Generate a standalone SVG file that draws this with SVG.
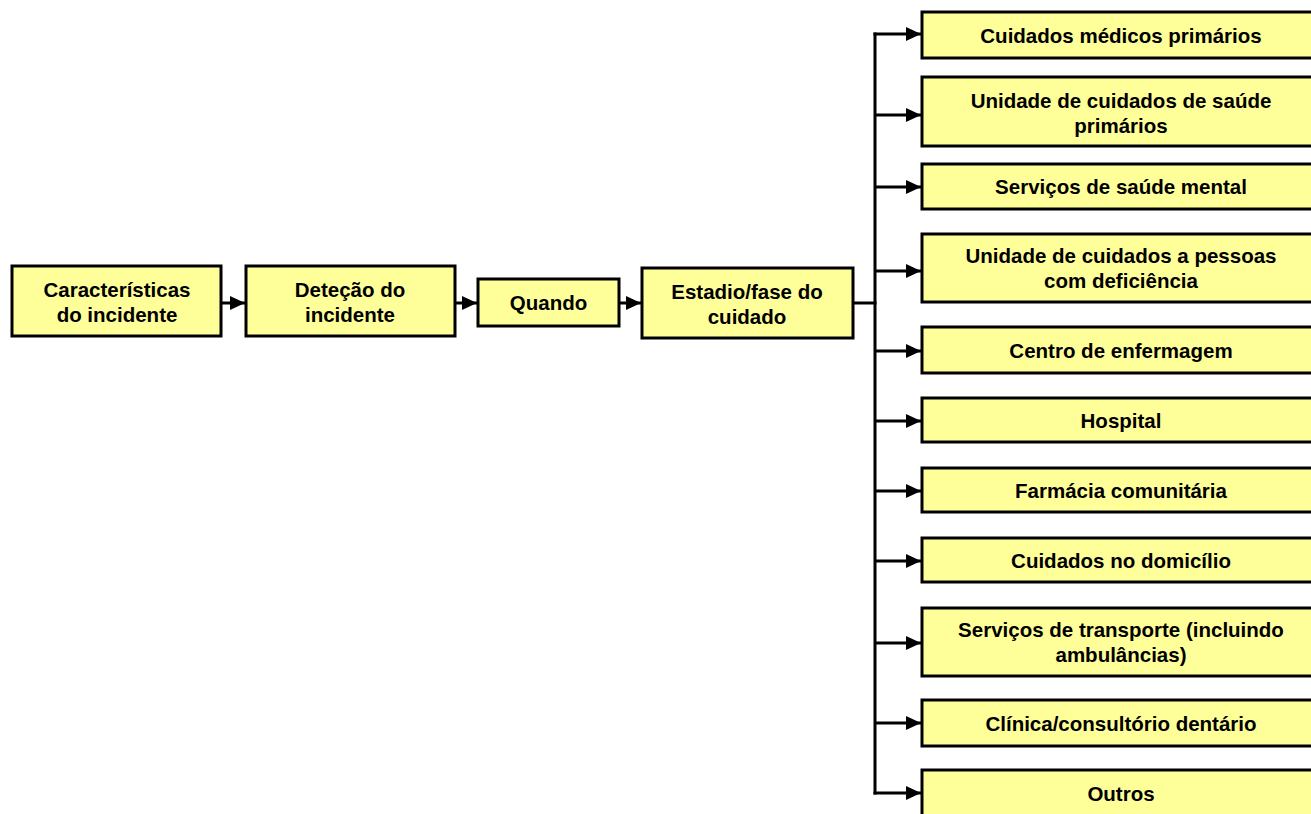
<svg xmlns="http://www.w3.org/2000/svg" width="1311" height="814" viewBox="0 0 1311 814">
<style>
.box{fill:#FFFF99;stroke:#000;stroke-width:3}
.t{font-family:"Liberation Sans",Arial,sans-serif;font-weight:bold;font-size:20.5px;fill:#000;text-anchor:middle}
.c{fill:none;stroke:#000;stroke-width:3}
</style>
<defs>
<marker id="ah" markerUnits="userSpaceOnUse" markerWidth="15" markerHeight="15" refX="15" refY="7.5" orient="auto">
<path d="M0,0.5 L15,7.5 L0,14.5 z" fill="#000"/>
</marker>
</defs>
<rect width="1311" height="814" fill="#fff"/>
<g id="connectors">
<line class="c" x1="222" y1="303" x2="245" y2="303" marker-end="url(#ah)"/>
<line class="c" x1="455" y1="303" x2="477" y2="303" marker-end="url(#ah)"/>
<line class="c" x1="620" y1="303" x2="641" y2="303" marker-end="url(#ah)"/>
<line class="c" x1="854" y1="303" x2="876.5" y2="303"/>
<line class="c" x1="875" y1="32.5" x2="875" y2="794.5"/>
<line class="c" x1="873.5" y1="34" x2="921" y2="34" marker-end="url(#ah)"/>
<line class="c" x1="875" y1="115" x2="921" y2="115" marker-end="url(#ah)"/>
<line class="c" x1="875" y1="187" x2="921" y2="187" marker-end="url(#ah)"/>
<line class="c" x1="875" y1="271" x2="921" y2="271" marker-end="url(#ah)"/>
<line class="c" x1="875" y1="351" x2="921" y2="351" marker-end="url(#ah)"/>
<line class="c" x1="875" y1="421" x2="921" y2="421" marker-end="url(#ah)"/>
<line class="c" x1="875" y1="491" x2="921" y2="491" marker-end="url(#ah)"/>
<line class="c" x1="875" y1="561" x2="921" y2="561" marker-end="url(#ah)"/>
<line class="c" x1="875" y1="643" x2="921" y2="643" marker-end="url(#ah)"/>
<line class="c" x1="875" y1="723" x2="921" y2="723" marker-end="url(#ah)"/>
<line class="c" x1="873.5" y1="793" x2="921" y2="793" marker-end="url(#ah)"/>
</g>
<g id="n1"><rect class="box" x="12" y="266" width="209" height="70"/><text class="t" x="117" y="297">Características</text><text class="t" x="117" y="322">do incidente</text></g>
<g id="n2"><rect class="box" x="246" y="266" width="209" height="70"/><text class="t" x="350" y="297">Deteção do</text><text class="t" x="350" y="322">incidente</text></g>
<g id="n3"><rect class="box" x="478" y="279" width="141" height="47"/><text class="t" x="548.5" y="310">Quando</text></g>
<g id="n4"><rect class="box" x="642" y="268" width="211" height="70"/><text class="t" x="747" y="299">Estadio/fase do</text><text class="t" x="747" y="324">cuidado</text></g>
<g id="r1"><rect class="box" x="922" y="12" width="400" height="46"/><text class="t" x="1121" y="42.5">Cuidados médicos primários</text></g>
<g id="r2"><rect class="box" x="922" y="77" width="400" height="69"/><text class="t" x="1121" y="107.5">Unidade de cuidados de saúde</text><text class="t" x="1121" y="132.5">primários</text></g>
<g id="r3"><rect class="box" x="922" y="164" width="400" height="45"/><text class="t" x="1121" y="194">Serviços de saúde mental</text></g>
<g id="r4"><rect class="box" x="922" y="234" width="400" height="68"/><text class="t" x="1121" y="263">Unidade de cuidados a pessoas</text><text class="t" x="1121" y="288">com deficiência</text></g>
<g id="r5"><rect class="box" x="922" y="327" width="400" height="46"/><text class="t" x="1121" y="357.5">Centro de enfermagem</text></g>
<g id="r6"><rect class="box" x="922" y="398" width="400" height="44"/><text class="t" x="1121" y="427.5">Hospital</text></g>
<g id="r7"><rect class="box" x="922" y="468" width="400" height="44"/><text class="t" x="1121" y="497.5">Farmácia comunitária</text></g>
<g id="r8"><rect class="box" x="922" y="538" width="400" height="44"/><text class="t" x="1121" y="567.5">Cuidados no domicílio</text></g>
<g id="r9"><rect class="box" x="922" y="608" width="400" height="68"/><text class="t" x="1121" y="637">Serviços de transporte (incluindo</text><text class="t" x="1121" y="662">ambulâncias)</text></g>
<g id="r10"><rect class="box" x="922" y="700" width="400" height="46"/><text class="t" x="1121" y="730.5">Clínica/consultório dentário</text></g>
<g id="r11"><rect class="box" x="922" y="770" width="400" height="60"/><text class="t" x="1121" y="800.5">Outros</text></g>
</svg>
